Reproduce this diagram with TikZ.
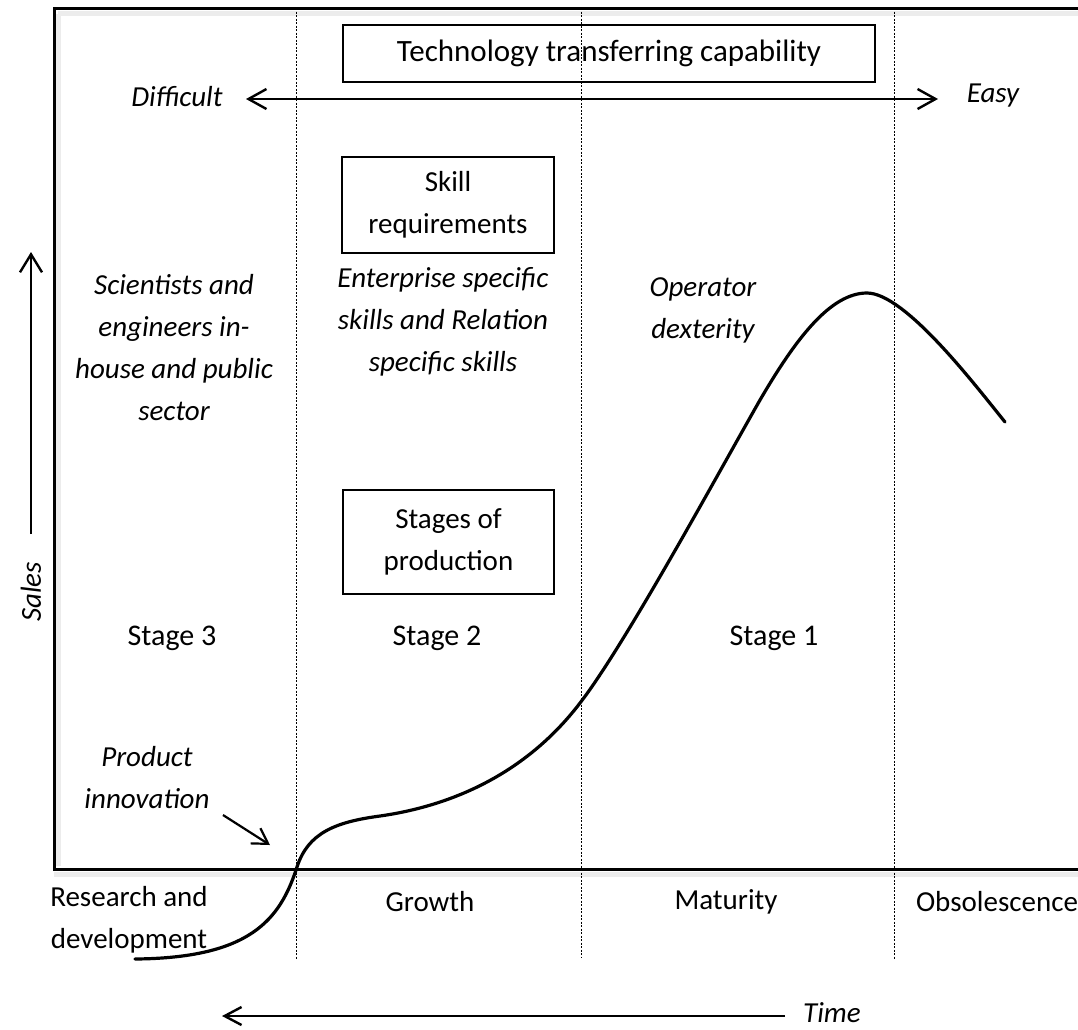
\documentclass[tikz,border=0pt]{standalone}
\usepackage{fontspec}
\setmainfont{Carlito}
\usetikzlibrary{arrows.meta}
\begin{document}
\begin{tikzpicture}[x=1pt,y=-1pt,
  txt/.style={font=\fontsize{29}{42}\selectfont, align=center, inner sep=0pt},
  itxt/.style={font=\fontsize{29}{42}\selectfont\itshape, align=center, inner sep=0pt},
  stagetxt/.style={font=\fontsize{30}{36}\selectfont, inner sep=0pt},
  boxed/.style={draw, line width=1.6pt},
  sep/.style={line width=0.8pt, dash pattern=on 2pt off 1.5pt},
  frame/.style={line width=3pt},
  darr/.style={line width=2.4pt, {Straight Barb[length=18pt,width=20pt,line width=2.4pt]}-{Straight Barb[length=18pt,width=20pt,line width=2.4pt]}},
  curve/.style={line width=3.2pt, line cap=round}
]
\useasboundingbox (0,0) rectangle (1078,1029);
\clip (0,0) rectangle (1078,1029);
% frame shadow
\draw[gray!15, line width=5pt] (58,14) -- (58,866);
\draw[gray!15, line width=5pt] (58,13) -- (1090,13);
\draw[gray!15, line width=5pt] (54,874) -- (1090,874);
% frame
\draw[frame] (1090,8) -- (54,8) -- (54,869) -- (1090,869);
% separators
\draw[sep] (296,8) -- (296,960);
\draw[sep] (581,8) -- (581,958);
\draw[sep] (894,8) -- (894,960);

% top box and arrow
\node[boxed, minimum width=532pt, minimum height=57pt, txt, font=\fontsize{31}{42}\selectfont] (tech) at (609,53.5) {Technology transferring capability};
\node[itxt] (dif) at (177,97) {Difficult};
\node[itxt] (easy) at (993,96) {Easy};
\coordinate (dl) at (246,99);
\coordinate (dr) at (938,99);
\draw[darr] (dl) -- (dr);

% skill box
\node[boxed, minimum width=212pt, minimum height=96pt, txt] (skill) at (448,205) {Skill\\requirements};
\node[itxt] (sci) at (174,348) {Scientists and\\engineers in-\\house and public\\sector};
\node[itxt] (ent) at (443,322) {Enterprise specific\\skills and Relation\\specific skills};
\node[itxt] (op) at (703,310) {Operator\\dexterity};

% stages box
\node[boxed, minimum width=211pt, minimum height=104pt, txt] (stages) at (448.5,542) {Stages of\\production};
\node[stagetxt] (s3) at (172,638) {Stage 3};
\node[stagetxt] (s2) at (437,638) {Stage 2};
\node[stagetxt] (s1) at (774,638) {Stage 1};

% product innovation
\node[itxt] (pi) at (147,778) {Product\\innovation};
\coordinate (pia) at (223,815);
\coordinate (pib) at (270,845);
\draw[line width=2.2pt, -{Straight Barb[length=15pt,width=18pt,line width=2.2pt]}] (pia) -- (pib);

% bottom labels
\node[txt] (rd) at (129,920) {Research and\\development};
\node[txt] (gr) at (430,902) {Growth};
\node[txt] (ma) at (726,902) {Maturity};
\node[txt] (ob) at (997,902) {Obsolescence};

% time arrow
\node[itxt] (time) at (832,1013) {Time};
\coordinate (ta) at (785,1016);
\coordinate (tb) at (222,1016);
\draw[line width=2.4pt, -{Straight Barb[length=17pt,width=18pt,line width=2.4pt]}] (ta) -- (tb);

% sales arrow
\node[itxt, rotate=90] (sales) at (31,592) {Sales};
\coordinate (sa) at (31,534);
\coordinate (sb) at (31,252);
\draw[line width=2.4pt, -{Straight Barb[length=18pt,width=22pt,line width=2.4pt]}] (sa) -- (sb);

% curve
\draw[curve] (135,959) .. controls (250,958) and (280,920) .. (297,867)
  .. controls (308,833) and (335,822) .. (380,816)
  .. controls (450,806) and (525,775) .. (580,703)
  .. controls (625,645) and (720,470) .. (760,400)
  .. controls (795,340) and (830,293) .. (867,293)
  .. controls (905,293) and (975,385) .. (1005,422);
\end{tikzpicture}
\end{document}
